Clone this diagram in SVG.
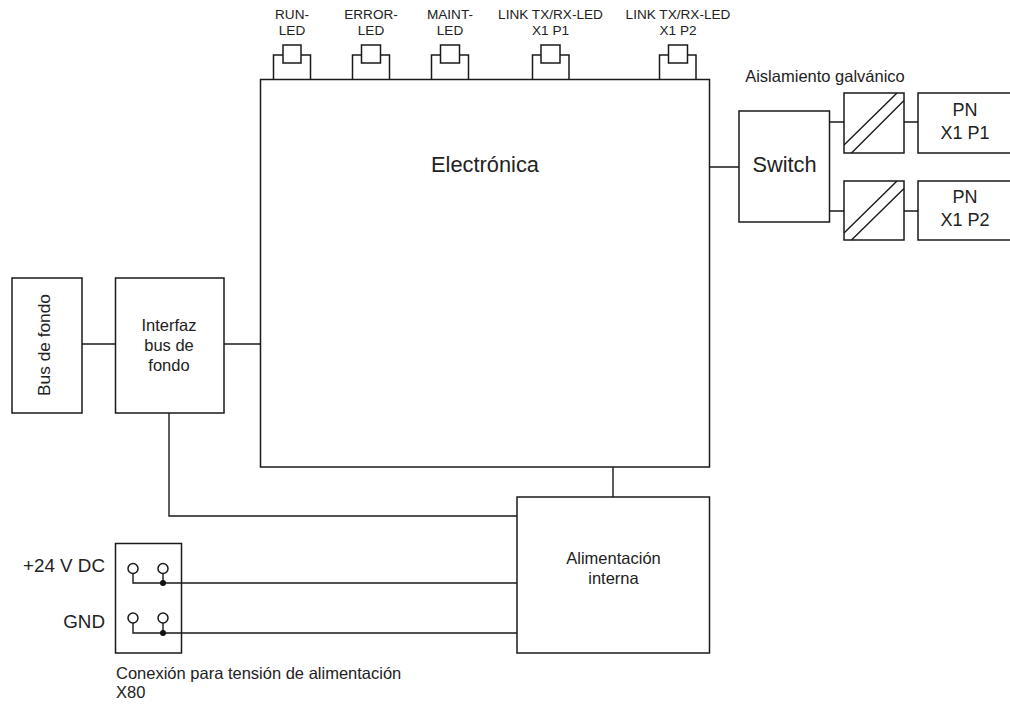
<svg xmlns="http://www.w3.org/2000/svg" width="1010" height="705" viewBox="0 0 1010 705">
<style>
.b{fill:none;stroke:#1a1a1a;stroke-width:1.5}
.c{fill:none;stroke:#1a1a1a;stroke-width:1.4}
.t{font-family:"Liberation Sans",Arial,sans-serif;fill:#222;text-anchor:middle}
.s{font-size:13.6px}.m{font-size:16.5px}.l{font-size:18px}.v{font-size:18.8px}.x{font-size:21.8px}
</style>
<rect width="1010" height="705" fill="#fff"/>
<g id="connectors" class="c">
<path d="M82 344H115M224 344H260M709 167H739M829 122H844M829 211H844M904 122H918M904 211H918M613 467V497M169 413V516H517"/>
<path d="M133 574V583H517M163 574V583M133 623V633H517M163 623V633"/>
</g>
<g id="led-run"><path class="b" d="M273.500 79V55H283M301 55H310.500V79"/><rect class="b" x="283" y="45" width="18" height="18"/><text class="t s" x="292" y="18.500">RUN-</text><text class="t s" x="292" y="35">LED</text></g>
<g id="led-error"><path class="b" d="M352.500 79V55H361.500M380.500 55H389.500V79"/><rect class="b" x="361.500" y="45" width="19" height="18"/><text class="t s" x="371" y="18.500">ERROR-</text><text class="t s" x="371" y="35">LED</text></g>
<g id="led-maint"><path class="b" d="M431.500 79V55H440.500M459.500 55H468.500V79"/><rect class="b" x="440.500" y="45" width="19" height="18"/><text class="t s" x="450" y="18.500">MAINT-</text><text class="t s" x="450" y="35">LED</text></g>
<g id="led-link1"><path class="b" d="M532.500 79V55H541M560 55H569V79"/><rect class="b" x="541" y="45" width="19" height="18"/><text class="t s" x="550.500" y="18.500">LINK TX/RX-LED</text><text class="t s" x="550.500" y="35">X1 P1</text></g>
<g id="led-link2"><path class="b" d="M659.500 79V55H668.500M687.500 55H696V79"/><rect class="b" x="668.500" y="45" width="19" height="18"/><text class="t s" x="678" y="18.500">LINK TX/RX-LED</text><text class="t s" x="678" y="35">X1 P2</text></g>
<g id="electronica"><rect class="b" x="260.500" y="79.500" width="449" height="387.500"/><text class="t x" x="485" y="172">Electrónica</text></g>
<g id="switch"><rect class="b" x="739" y="111" width="90.500" height="111"/><text class="t x" x="784.500" y="172">Switch</text></g>
<g id="aislamiento"><text class="t m" x="825" y="81.500">Aislamiento galvánico</text></g>
<g id="iso1"><rect class="b" x="844" y="93" width="60" height="60"/><path class="c" d="M844 145L897 93M851.500 153L904 100.500"/></g>
<g id="iso2"><rect class="b" x="844" y="181" width="60" height="59"/><path class="c" d="M844 233L897 181M851.500 240L904 188.500"/></g>
<g id="pn1"><path class="b" d="M1010 93H918V153H1010"/><text class="t l" x="965" y="116">PN</text><text class="t l" x="965" y="138.500">X1 P1</text></g>
<g id="pn2"><path class="b" d="M1010 181H918V240H1010"/><text class="t l" x="965" y="203">PN</text><text class="t l" x="965" y="225.500">X1 P2</text></g>
<g id="bus-fondo"><rect class="b" x="12" y="278" width="70" height="135"/><text class="t m" transform="translate(50 345) rotate(-90)" style="font-size:17.300px">Bus de fondo</text></g>
<g id="interfaz"><rect class="b" x="115.500" y="278" width="108.500" height="135"/><text class="t m" x="169" y="331">Interfaz</text><text class="t m" x="169" y="351">bus de</text><text class="t m" x="169" y="371">fondo</text></g>
<g id="alimentacion"><rect class="b" x="517" y="497" width="192.500" height="156"/><text class="t m" x="613.500" y="564">Alimentación</text><text class="t m" x="613.500" y="584">interna</text></g>
<g id="conector"><rect class="b" x="115.500" y="543.500" width="66" height="109.500"/>
<circle class="b" cx="133" cy="568.500" r="5"/><circle class="b" cx="163" cy="568.500" r="5"/><circle class="b" cx="133" cy="618" r="5"/><circle class="b" cx="163" cy="618" r="5"/>
<circle cx="163" cy="583" r="3" fill="#111"/><circle cx="163" cy="633" r="3" fill="#111"/>
<text class="t v" x="105" y="572" style="text-anchor:end">+24 V DC</text><text class="t v" x="105" y="628" style="text-anchor:end">GND</text></g>
<g id="conexion"><text class="t m" x="116" y="679" style="text-anchor:start">Conexión para tensión de alimentación</text><text class="t m" x="116" y="698" style="text-anchor:start">X80</text></g>
</svg>
